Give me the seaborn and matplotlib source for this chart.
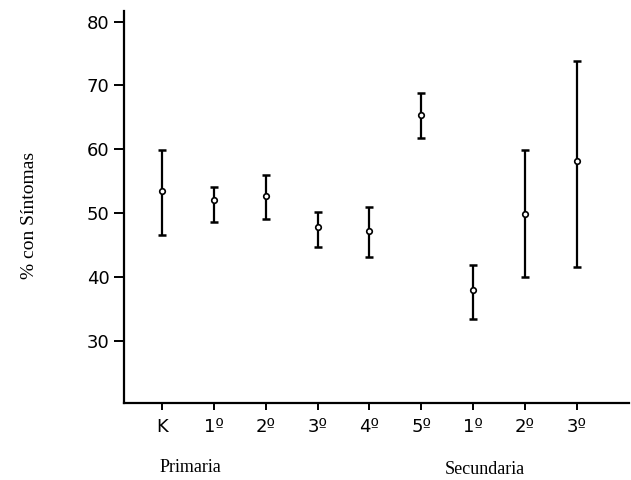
import matplotlib
matplotlib.use("Agg")
import matplotlib.pyplot as plt
import seaborn as sns
import numpy as np
import pandas as pd

categories = ["K", "1º", "2º", "3º", "4º", "5º", "1º", "2º", "3º"]
centers = [53.4, 52.0, 52.6, 47.8, 47.2, 65.4, 37.9, 49.8, 58.2]
upper = [59.8, 54.0, 56.0, 50.1, 50.9, 68.8, 41.9, 59.8, 73.9]
lower = [46.5, 48.6, 49.1, 44.7, 43.1, 61.7, 33.3, 40.0, 41.6]
yticks = [30, 40, 50, 60, 70, 80]
group_labels = ["Primaria", "Secundaria"]

sns.set_style("ticks")
plt.rcParams["font.family"] = ["DejaVu Sans"]

fig = plt.figure(figsize=(6.31, 4.8), dpi=100)
ax = fig.add_axes([0.1965, 0.1604, 0.80, 0.817])

x = np.arange(len(categories))
df = pd.DataFrame({"x": x, "y": centers})
c = np.array(centers)
yerr = np.vstack([c - np.array(lower), np.array(upper) - c])
ax.errorbar(x, c, yerr=yerr, fmt="none", ecolor="black", elinewidth=1.6,
            capsize=3, capthick=1.8, zorder=2)
sns.scatterplot(data=df, x="x", y="y", ax=ax, marker="o", s=16,
                facecolor="white", edgecolor="black", linewidth=1.2, zorder=3)

ax.set_xlim(-0.73, 9.0)
ax.set_ylim(20.2, 81.7)
ax.set_yticks(yticks)
ax.set_xticks(x)
ax.set_xticklabels(categories)
ax.tick_params(axis="both", labelsize=13, width=1.4, color="black",
               labelcolor="black")
ax.tick_params(axis="y", length=7)
ax.tick_params(axis="x", length=5, pad=6)
for s in ["top", "right"]:
    ax.spines[s].set_visible(False)
for s in ["left", "bottom"]:
    ax.spines[s].set_linewidth(1.6)
    ax.spines[s].set_color("black")
ax.set_xlabel("")
ax.set_ylabel("")

fig.text(30 / 631, 1 - 215 / 480, "% con Síntomas", rotation=90, ha="center",
         va="center", fontsize=14, family=["Liberation Serif"], color="black")
fig.text(190 / 631, 1 - 468 / 480, group_labels[0], ha="center", va="center",
         fontsize=13, family=["Liberation Serif"], color="black")
fig.text(485 / 631, 1 - 470 / 480, group_labels[1], ha="center", va="center",
         fontsize=13, family=["Liberation Serif"], color="black")

fig.savefig("out.png", dpi=100)
